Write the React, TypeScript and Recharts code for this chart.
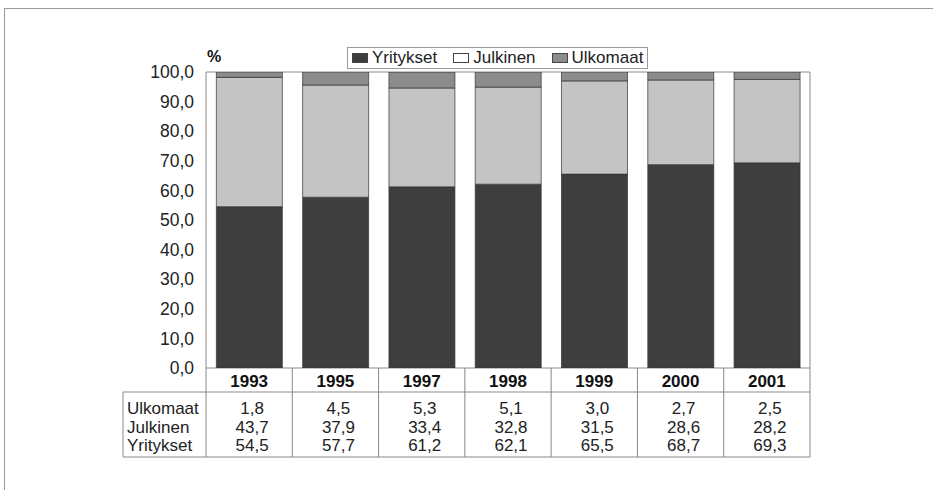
import { BarChart, Bar, XAxis, YAxis, ReferenceArea } from "recharts";

const YEARS = ["1993", "1995", "1997", "1998", "1999", "2000", "2001"];
const YRITYKSET = [54.5, 57.7, 61.2, 62.1, 65.5, 68.7, 69.3];
const JULKINEN = [43.7, 37.9, 33.4, 32.8, 31.5, 28.6, 28.2];
const ULKOMAAT = [1.8, 4.5, 5.3, 5.1, 3.0, 2.7, 2.5];
const Y_TICKS = [0, 10, 20, 30, 40, 50, 60, 70, 80, 90, 100];

const SERIES = [
  { key: "Yritykset", color: "#3e3e3e", values: YRITYKSET },
  { key: "Julkinen", color: "#c4c4c4", values: JULKINEN },
  { key: "Ulkomaat", color: "#8c8c8c", values: ULKOMAAT },
];
// table rows run top-down in the opposite order to the stack
const ROWS = [...SERIES].reverse();

const data = YEARS.map((year, i) => ({
  year,
  Yritykset: YRITYKSET[i],
  Julkinen: JULKINEN[i],
  Ulkomaat: ULKOMAAT[i],
}));

const FONT = "'Liberation Sans', Arial, sans-serif";
const LINE = "#8a8a8a";
const fmt = (v: number) => v.toFixed(1).replace(".", ",");

function TableTick(props: any) {
  const { x, y, payload, index, visibleTicksCount } = props;
  const i = payload.index ?? index;
  const half = payload.offset ?? 43;
  const left = x - half;
  const rowTop = y + 24;
  const bottom = y + 89;
  return (
    <g>
      <text x={x} y={y + 19} textAnchor="middle" fontWeight="bold" fontSize={17} fill="#111">
        {payload.value}
      </text>
      <line x1={left} x2={left} y1={y} y2={bottom} stroke={LINE} />
      {i === visibleTicksCount - 1 && <line x1={x + half} x2={x + half} y1={y} y2={bottom} stroke={LINE} />}
      {ROWS.map((r, k) => (
        <text key={r.key} x={x + 3} y={y + 46 + k * 18.7} textAnchor="middle" fontSize={17} fill="#222">
          {fmt(r.values[i])}
        </text>
      ))}
      {i === 0 && (
        <g>
          <line x1={left - 83} x2={left + 2 * half * visibleTicksCount} y1={rowTop} y2={rowTop} stroke={LINE} />
          <line x1={left - 83} x2={left + 2 * half * visibleTicksCount} y1={bottom} y2={bottom} stroke={LINE} />
          <line x1={left - 83} x2={left - 83} y1={rowTop} y2={bottom} stroke={LINE} />
          {ROWS.map((r, k) => (
            <text key={r.key} x={left - 79} y={y + 46 + k * 18.7} fontSize={17} fill="#222">
              {r.key}
            </text>
          ))}
        </g>
      )}
    </g>
  );
}

function LegendBox() {
  return (
    <div
      style={{
        position: "absolute", left: 347, top: 47, height: 20, padding: "0 4px",
        border: "1px solid #999", display: "flex", alignItems: "center", gap: 16,
        fontFamily: FONT, fontSize: 17, color: "#222", background: "#fff",
      }}
    >
      {SERIES.map((s) => (
        <span key={s.key} style={{ display: "flex", alignItems: "center", gap: 4 }}>
          <span
            style={{
              display: "inline-block", width: 14, height: 8,
              background: s.key === "Julkinen" ? "#fff" : s.color,
              border: "1px solid #444",
            }}
          />
          {s.key}
        </span>
      ))}
    </div>
  );
}

export default function App() {
  return (
    <div style={{ position: "absolute", left: 0, top: 0, width: 933, height: 490, background: "#fff", fontFamily: FONT }}>
      <div style={{ position: "absolute", left: 4, top: 8, width: 929, height: 482, borderTop: "1px solid #999", borderLeft: "1px solid #999" }} />
      <BarChart
        width={933}
        height={490}
        data={data}
        margin={{ top: 72, right: 123, bottom: 33, left: 116 }}
        barCategoryGap="12%"
        style={{ position: "absolute", left: 0, top: 0 }}
      >
        <ReferenceArea y1={0} y2={100} fill="none" stroke={LINE} ifOverflow="visible" />
        <XAxis dataKey="year" height={89} interval={0} axisLine={false} tickLine={false} tickSize={0} tickMargin={0} tick={<TableTick />} />
        <YAxis
          width={90}
          domain={[0, 100]}
          allowDataOverflow
          ticks={Y_TICKS}
          tickFormatter={fmt}
          axisLine={false}
          tickLine={false}
          tickSize={0}
          tickMargin={12}
          tick={{ fontSize: 17.5, fill: "#222" }}
        />
        {SERIES.map((s) => (
          <Bar key={s.key} dataKey={s.key} stackId="a" fill={s.color} stroke="#333" strokeWidth={0.7} isAnimationActive={false} />
        ))}
      </BarChart>
      <div style={{ position: "absolute", left: 207, top: 48, fontWeight: "bold", fontSize: 16, color: "#111" }}>%</div>
      <LegendBox />
    </div>
  );
}
